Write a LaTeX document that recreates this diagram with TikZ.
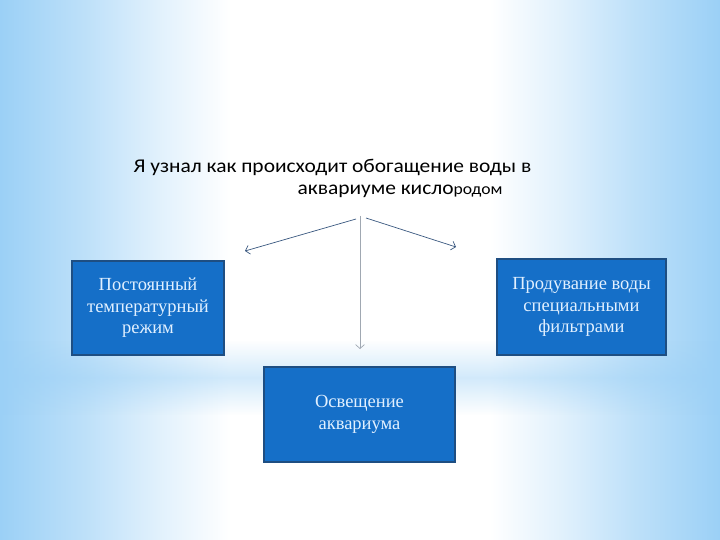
\documentclass[tikz,border=0pt]{standalone}
\usepackage{fontspec}
\setmainfont{Liberation Serif}
\newfontfamily\titlefont[FakeStretch=1.1]{Carlito}
\usetikzlibrary{positioning,arrows.meta,fadings}
\definecolor{bgblue}{RGB}{155,208,246}
\definecolor{boxblue}{RGB}{21,111,200}
\definecolor{boxborder}{RGB}{30,78,130}
\definecolor{boxtext}{RGB}{225,240,255}
\definecolor{arrowblue}{RGB}{58,88,128}
\definecolor{arrowgray}{RGB}{160,168,178}
\pgfdeclarehorizontalshading{sidefade}{100bp}{color(0bp)=(bgblue); color(25bp)=(bgblue);
  color(31bp)=(bgblue!65!white); color(36bp)=(bgblue!30!white); color(41bp)=(white); color(59bp)=(white);
  color(64bp)=(bgblue!30!white); color(69bp)=(bgblue!65!white); color(75bp)=(bgblue); color(100bp)=(bgblue)}
\tikzfading[name=bandfade,top color=transparent!100,bottom color=transparent!100,middle color=transparent!0]
\tikzset{
  factor/.style={rectangle,draw=boxborder,line width=1.5pt,fill=boxblue,
    text=boxtext,align=center,inner sep=0pt,
    font=\fontsize{18.5}{21.5}\selectfont},
  heading/.style={anchor=west,font=\titlefont\fontsize{19.5}{22}\selectfont},
  branch/.style={-{Straight Barb[length=4pt,width=9pt]},arrowblue,line width=0.7pt},
}
\begin{document}
\begin{tikzpicture}[x=1pt,y=-1pt]
    \useasboundingbox (0,0) rectangle (720,540);
    % Background
    \shade[shading=sidefade] (0,0) rectangle (720,540);
    \fill[bgblue,path fading=bandfade,opacity=0.45] (0,340) rectangle (720,415);

    % Heading
    \node (title_top) [heading] at (130,167)
      {Я узнал как происходит обогащение воды в};
    \node (title_bottom) [heading] at (294,191)
      {аквариуме кисло{\fontsize{16}{22}\selectfont родом}};

    % Boxes
    \node (temperature) [factor,minimum width=152pt,minimum height=94pt] at (148,308)
      {Постоянный\\температурный\\режим};
    \node (filters) [factor,minimum width=169pt,minimum height=96pt] at (581.5,307)
      {Продувание воды\\специальными\\фильтрами};
    \node (lighting) [factor,minimum width=191pt,minimum height=95pt] at (359.5,414.5)
      {Освещение\\аквариума};

    % Arrow ends
    \coordinate (fork_left) at (356,219);
    \coordinate (fork_right) at (366,218);
    \coordinate (fork_down) at (360,216);
    \coordinate (tip_left) at (245,251);
    \coordinate (tip_right) at (456,247);
    \coordinate (tip_down) at (360,349);

    \draw[branch] (fork_left) -- (tip_left);
    \draw[branch] (fork_right) -- (tip_right);
    \draw[branch,arrowgray] (fork_down) -- (tip_down);
\end{tikzpicture}
\end{document}
